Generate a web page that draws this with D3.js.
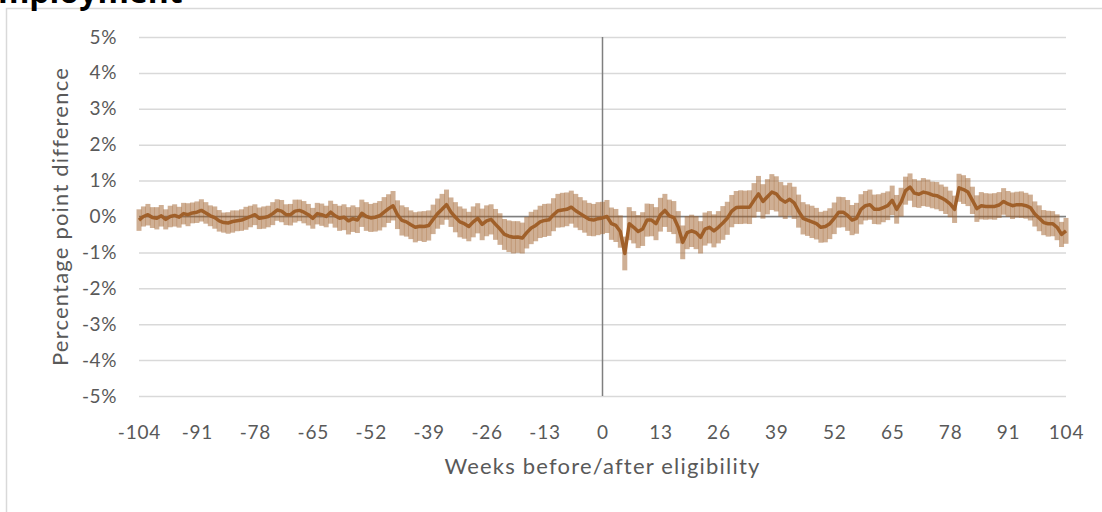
<!DOCTYPE html>
<html>
<head>
<meta charset="utf-8">
<script src="https://cdn.jsdelivr.net/npm/d3@7"></script>
<style>
  body { margin: 0; background: #fff; }
  svg { display: block; }
</style>
</head>
<body>
<svg width="1102" height="512"></svg>
<script>
// weeks before / after eligibility
const weeks = d3.range(-104, 105);

// percentage point difference, one per week (-104 .. 104)
const diffValues = [
  -0.10, 0.00, 0.05, -0.03, -0.05, 0.02, -0.08, 0.00, 0.03, -0.02,   // -104..-95
  0.08, 0.05, 0.10, 0.12, 0.17, 0.10, 0.02, -0.03, -0.12, -0.17,     // -94..-85
  -0.18, -0.14, -0.12, -0.10, -0.05, 0.00, 0.05, -0.05, -0.03, 0.00, // -84..-75
  0.08, 0.18, 0.15, 0.05, 0.05, 0.15, 0.17, 0.12, 0.05, -0.05,       // -74..-65
  0.08, 0.05, 0.00, 0.12, 0.02, -0.05, -0.02, -0.12, -0.06, -0.10,   // -64..-55
  0.09, 0.00, -0.04, -0.02, 0.02, 0.12, 0.22, 0.30, 0.05, -0.11,     // -54..-45
  -0.15, -0.23, -0.30, -0.27, -0.28, -0.25, -0.08, 0.08, 0.20, 0.33, // -44..-35
  0.12, -0.02, -0.15, -0.20, -0.28, -0.15, -0.05, -0.22, -0.12, -0.08, // -34..-25
  -0.22, -0.35, -0.50, -0.55, -0.58, -0.57, -0.60, -0.45, -0.32, -0.25, // -24..-15
  -0.15, -0.11, -0.09, 0.05, 0.16, 0.18, 0.20, 0.26, 0.16, 0.08,     // -14..-5
  0.00, -0.08, -0.10, -0.06, -0.04, 0.00, -0.20, -0.25, -0.42, -1.03, // -4..5
  -0.20, -0.30, -0.42, -0.35, -0.10, -0.10, -0.20, 0.05, 0.17, 0.02, // 6..15
  -0.03, -0.30, -0.72, -0.45, -0.40, -0.45, -0.58, -0.35, -0.30, -0.40, // 16..25
  -0.30, -0.18, -0.05, 0.15, 0.25, 0.26, 0.26, 0.26, 0.45, 0.63,     // 26..35
  0.42, 0.55, 0.68, 0.63, 0.48, 0.40, 0.48, 0.38, 0.15, -0.05,       // 36..45
  -0.10, -0.15, -0.20, -0.30, -0.28, -0.20, -0.05, 0.12, 0.12, 0.03, // 46..55
  -0.10, -0.05, 0.20, 0.30, 0.33, 0.20, 0.20, 0.25, 0.30, 0.45,      // 56..65
  0.20, 0.40, 0.72, 0.82, 0.65, 0.62, 0.68, 0.65, 0.60, 0.58,        // 66..75
  0.52, 0.45, 0.35, 0.20, 0.80, 0.75, 0.68, 0.45, 0.22, 0.30,        // 76..85
  0.28, 0.28, 0.28, 0.32, 0.42, 0.35, 0.30, 0.33, 0.33, 0.30,        // 86..95
  0.25, 0.07, -0.05, -0.17, -0.20, -0.20, -0.30, -0.50, -0.40        // 96..104
];

// half width of the error bars (percentage points), per week
const errValues = [
  0.30, 0.28, 0.30, 0.29, 0.31, 0.30, 0.28, 0.30, 0.31, 0.29,
  0.30, 0.32, 0.29, 0.30, 0.31, 0.30, 0.29, 0.31, 0.30, 0.28,
  0.30, 0.31, 0.29, 0.30, 0.32, 0.30, 0.29, 0.30, 0.31, 0.30,
  0.32, 0.30, 0.31, 0.29, 0.30, 0.32, 0.30, 0.31, 0.30, 0.29,
  0.30, 0.31, 0.30, 0.32, 0.33, 0.35, 0.36, 0.38, 0.37, 0.36,
  0.38, 0.40, 0.39, 0.40, 0.41, 0.42, 0.40, 0.41, 0.40, 0.42,
  0.41, 0.40, 0.42, 0.41, 0.43, 0.42, 0.41, 0.42, 0.43, 0.42,
  0.41, 0.42, 0.43, 0.42, 0.41, 0.43, 0.42, 0.44, 0.43, 0.42,
  0.43, 0.44, 0.43, 0.44, 0.45, 0.44, 0.43, 0.44, 0.45, 0.44,
  0.45, 0.46, 0.45, 0.46, 0.47, 0.48, 0.47, 0.46, 0.47, 0.46,
  0.45, 0.46, 0.45, 0.46, 0.45, 0.46, 0.45, 0.46, 0.45, 0.47,
  0.46, 0.45, 0.46, 0.47, 0.46, 0.45, 0.46, 0.47, 0.46, 0.45,
  0.46, 0.45, 0.47, 0.46, 0.45, 0.46, 0.45, 0.46, 0.45, 0.46,
  0.45, 0.47, 0.46, 0.45, 0.46, 0.47, 0.46, 0.47, 0.48, 0.50,
  0.48, 0.49, 0.50, 0.49, 0.48, 0.47, 0.46, 0.45, 0.46, 0.45,
  0.44, 0.45, 0.44, 0.43, 0.44, 0.43, 0.44, 0.43, 0.42, 0.43,
  0.42, 0.43, 0.42, 0.41, 0.42, 0.41, 0.42, 0.41, 0.40, 0.41,
  0.40, 0.40, 0.39, 0.38, 0.39, 0.38, 0.39, 0.38, 0.37, 0.38,
  0.37, 0.38, 0.37, 0.38, 0.39, 0.40, 0.39, 0.38, 0.37, 0.38,
  0.37, 0.36, 0.37, 0.36, 0.37, 0.36, 0.37, 0.36, 0.37, 0.36,
  0.36, 0.35, 0.36, 0.35, 0.36, 0.35, 0.36, 0.35, 0.36
];

const xTicks = [-104, -91, -78, -65, -52, -39, -26, -13, 0, 13, 26, 39, 52, 65, 78, 91, 104];
const yTicks = [-5, -4, -3, -2, -1, 0, 1, 2, 3, 4, 5];

const chartTitle = 'Employment';
const xTitle = 'Weeks before/after eligibility';
const yTitle = 'Percentage point difference';

const data = weeks.map((w, i) => ({ week: w, value: diffValues[i], err: errValues[i] }));

// layout, hand tuned against the picture
const plotLeft = 139, plotRight = 1066, plotTop = 37, plotBottom = 396;
const lineCol = '#A0602A';
const textCol = '#595959';
const fontFam = 'Lato, "Open Sans", sans-serif';

const svg = d3.select('svg');

// outer chart frame (cut off on the right / bottom)
svg.append('rect')
   .attr('x', 6.5).attr('y', 8.5)
   .attr('width', 1200).attr('height', 600)
   .style('fill', 'none')
   .style('stroke', '#d9d9d9')
   .style('stroke-width', '1.5px');

// title, mostly above the visible area (cut off in the source too)
svg.append('text')
   .text(chartTitle)
   .attr('x', -20).attr('y', 3)
   .style('font-family', '"Open Sans", sans-serif')
   .style('font-weight', 'bold')
   .style('font-size', '32px')
   .style('fill', '#000');

const x = d3.scaleLinear().domain([-104, 104]).range([plotLeft, plotRight]);
const y = d3.scaleLinear().domain([-5, 5]).range([plotBottom, plotTop]);

// y axis + gridlines
const yAxisG = svg.append('g')
   .attr('transform', `translate(${plotLeft}, 0)`)
   .call(d3.axisLeft(y)
           .tickValues(yTicks)
           .tickFormat(d => d + '%')
           .tickSize(-(plotRight - plotLeft))
           .tickPadding(22));
yAxisG.select('.domain').remove();
yAxisG.selectAll('line')
      .style('stroke', '#d9d9d9')
      .style('stroke-width', '1.5px');
yAxisG.selectAll('text')
      .style('fill', textCol)
      .style('font-size', '19px')
      .style('letter-spacing', '0.6px')
      .style('font-family', fontFam);

// x axis labels
const xAxisG = svg.append('g')
   .attr('transform', `translate(0, ${plotBottom})`)
   .call(d3.axisBottom(x)
           .tickValues(xTicks)
           .tickFormat(d => String(d))
           .tickSize(0)
           .tickPadding(30));
xAxisG.select('.domain').remove();
xAxisG.selectAll('text')
      .style('fill', textCol)
      .style('font-size', '19px')
      .style('letter-spacing', '0.8px')
      .style('font-family', fontFam);

// zero lines
svg.append('line')
   .attr('x1', plotLeft).attr('x2', plotRight)
   .attr('y1', y(0)).attr('y2', y(0))
   .style('stroke', '#7f7f7f')
   .style('stroke-width', '1.5px');

svg.append('line')
   .attr('x1', x(0)).attr('x2', x(0))
   .attr('y1', plotTop).attr('y2', plotBottom)
   .style('stroke', '#7f7f7f')
   .style('stroke-width', '1.5px');

// error bars
const barW = 5;
svg.append('g')
   .selectAll('rect')
   .data(data)
   .enter()
   .append('rect')
   .attr('x', d => x(d.week) - barW / 2)
   .attr('y', d => y(d.value + d.err))
   .attr('width', barW)
   .attr('height', d => y(d.value - d.err) - y(d.value + d.err))
   .style('fill', lineCol)
   .style('fill-opacity', 0.5);

// main line
const line = d3.line()
   .x(d => x(d.week))
   .y(d => y(d.value));

svg.append('path')
   .datum(data)
   .attr('d', line)
   .style('fill', 'none')
   .style('stroke', lineCol)
   .style('stroke-width', '3.5px')
   .style('stroke-linejoin', 'round');

// axis titles
svg.append('text')
   .text(xTitle)
   .attr('x', (plotLeft + plotRight) / 2)
   .attr('y', 474)
   .style('text-anchor', 'middle')
   .style('fill', textCol)
   .style('font-size', '22px')
   .style('letter-spacing', '1.2px')
   .style('font-family', fontFam);

svg.append('text')
   .text(yTitle)
   .attr('transform', `translate(68, ${(plotTop + plotBottom) / 2}) rotate(-90)`)
   .style('text-anchor', 'middle')
   .style('fill', textCol)
   .style('font-size', '22px')
   .style('letter-spacing', '1.2px')
   .style('font-family', fontFam);
</script>
</body>
</html>
